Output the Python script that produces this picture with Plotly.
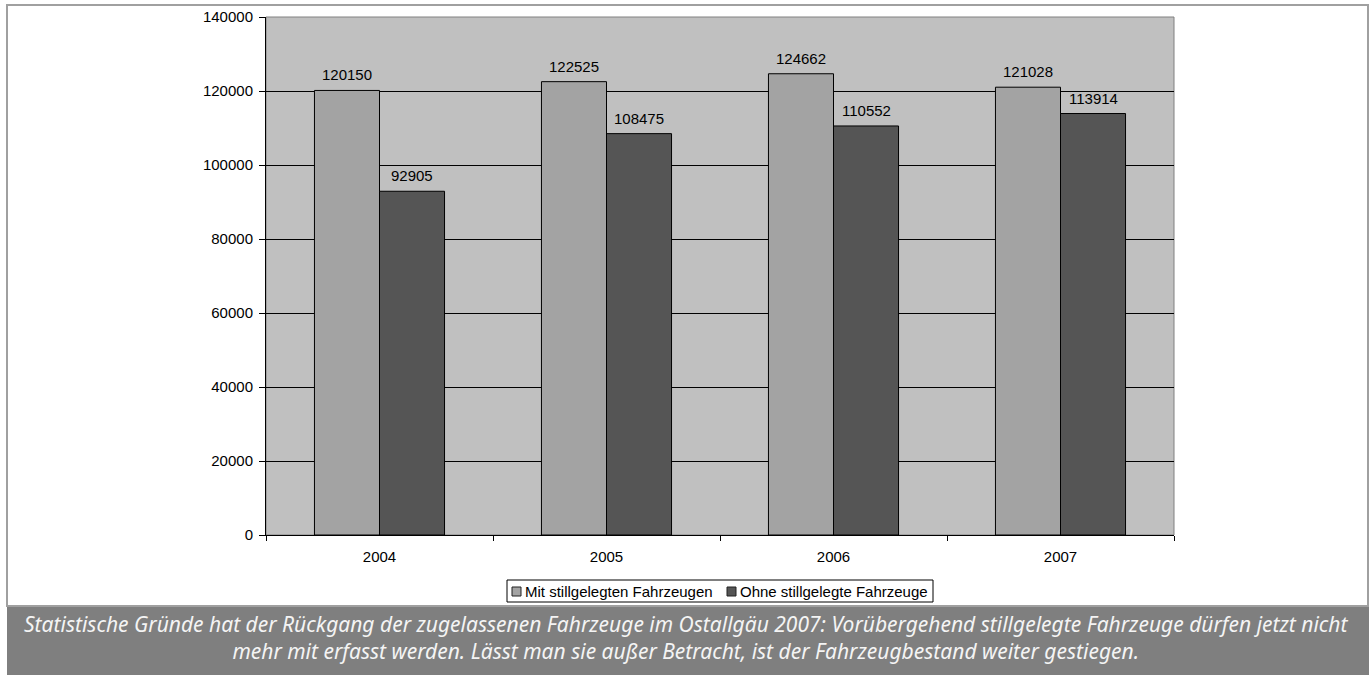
import plotly.graph_objects as go

years = ["2004", "2005", "2006", "2007"]
mit = [120150, 122525, 124662, 121028]
ohne = [92905, 108475, 110552, 113914]
series_names = ["Mit stillgelegten Fahrzeugen", "Ohne stillgelegte Fahrzeuge"]
series_colors = ["#a3a3a3", "#555555"]
caption_lines = [
    "Statistische Gründe hat der Rückgang der zugelassenen Fahrzeuge im Ostallgäu 2007: "
    "Vorübergehend stillgelegte Fahrzeuge dürfen jetzt nicht",
    "mehr mit erfasst werden. Lässt man sie außer Betracht, ist der Fahrzeugbestand weiter gestiegen.",
]

W, H = 1372, 675
L, R, T, B = 266, 1174, 17, 535
pw, ph = R - L, B - T
FONT = "Liberation Sans, Arial, sans-serif"


def px(x):
    return (x - L) / pw


def py(y):
    return (B - y) / ph


fig = go.Figure()
for name, vals, col in zip(series_names, [mit, ohne], series_colors):
    fig.add_bar(x=years, y=vals, name=name, showlegend=False,
                marker=dict(color=col, line=dict(color="#000000", width=1)))

annotations = []
# value labels above bars (x given as category index on the category axis)
for vals, shift in [(mit, -32.5), (ohne, 32.5)]:
    for i, v in enumerate(vals):
        annotations.append(dict(x=i, y=v, xref="x", yref="y", text=str(v), showarrow=False,
                                xshift=shift, yshift=5, yanchor="bottom", xanchor="center",
                                font=dict(family=FONT, size=15, color="#000")))

# caption
annotations.append(dict(text="<br>".join(caption_lines), xref="paper", yref="paper",
                        x=px(686), y=py(637), xanchor="center", yanchor="middle",
                        showarrow=False, align="center",
                        font=dict(family="Noto Sans", size=21, color="#f4f4f4", style="italic")))

# legend (custom, compact like the original)
legend_text_x = [523, 738]
legend_sq_x = [512, 727]
shapes = [
    dict(type="rect", xref="paper", yref="paper", x0=px(7), x1=px(1368), y0=py(606), y1=py(5),
         line=dict(color="#a0a0a0", width=2), fillcolor="rgba(0,0,0,0)", layer="below"),
    dict(type="rect", xref="paper", yref="paper", x0=px(7), x1=px(1369), y0=py(675), y1=py(607),
         line=dict(width=0), fillcolor="#7f7f7f", layer="below"),
    dict(type="rect", xref="paper", yref="paper", x0=0, x1=1, y0=0, y1=1,
         line=dict(color="#808080", width=1), fillcolor="rgba(0,0,0,0)", layer="below"),
    dict(type="rect", xref="paper", yref="paper", x0=px(507), x1=px(933), y0=py(602), y1=py(580),
         line=dict(color="#000", width=1), fillcolor="#ffffff", layer="above"),
]
for name, col, sx, tx in zip(series_names, series_colors, legend_sq_x, legend_text_x):
    shapes.append(dict(type="rect", xref="paper", yref="paper", x0=px(sx), x1=px(sx + 9),
                       y0=py(596), y1=py(587), line=dict(color="#222", width=1),
                       fillcolor=col, layer="above"))
    annotations.append(dict(text=name, xref="paper", yref="paper", x=px(tx), y=py(591.5),
                            xanchor="left", yanchor="middle", showarrow=False,
                            font=dict(family=FONT, size=15, color="#000")))

fig.update_layout(
    width=W, height=H,
    margin=dict(l=L, r=W - R, t=T, b=H - B, pad=0, autoexpand=False),
    paper_bgcolor="#ffffff",
    plot_bgcolor="#c0c0c0",
    barmode="group",
    bargap=0.427,
    bargroupgap=0,
    font=dict(family=FONT, size=15, color="#000"),
    showlegend=False,
    yaxis=dict(range=[0, 140000], dtick=20000, showgrid=True, gridcolor="#000", gridwidth=1,
               showline=True, linecolor="#000", linewidth=1, ticks="outside", ticklen=6,
               tickcolor="#000", zeroline=False, tickformat="d", fixedrange=True,
               automargin=False, ticklabelstandoff=3, tickfont=dict(family=FONT, size=15)),
    xaxis=dict(type="category", range=[-0.5, len(years) - 0.5], showline=True, linecolor="#000",
               linewidth=1, ticks="outside", ticklen=5, tickcolor="#000", tickson="boundaries",
               showgrid=False, fixedrange=True, automargin=False, ticklabelstandoff=8,
               tickfont=dict(family=FONT, size=15), tickangle=0),
    shapes=shapes,
    annotations=annotations,
)

fig.write_html("out.html")
